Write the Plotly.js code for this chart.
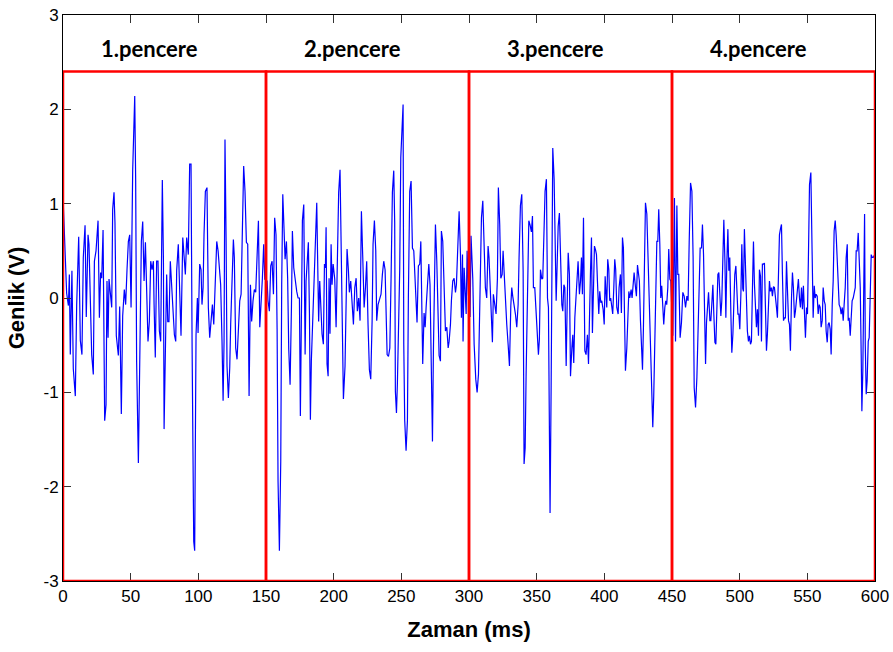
<!DOCTYPE html>
<html>
<head>
<meta charset="utf-8">
<script src="https://cdn.plot.ly/plotly-3.0.1.min.js"></script>
<style>html,body{margin:0;padding:0;background:#fff;}#chart{width:893px;height:652px;}</style>
</head>
<body>
<div id="chart"></div>
<script>
// Window 1 (0-150 ms)
const w1Time = [0,1.2,2,2.7,4,4.7,5.4,6.6,7.6,9.1,10.1,11.6,12.8,14,15,16.3,17.2,18.5,19.2,20.2,21.2,22.4,23.2,24.4,25.9,26.9,27.8,28.6,29.6,30.8,31.8,32.5,33.3,34,35.2,36,36.7,37.7,38.4,39.4,40.9,41.9,43.1,44.1,45.3,46.3,47.3,48.3,49.3,
  50.3,51.5,53,53.7,54.4,55.7,56.4,57.2,57.9,58.9,59.9,60.9,61.8,62.8,63.8,64.8,65.8,66.8,67.3,68.2,69.2,70.2,71.2,72.2,73.4,74.2,74.7,75.6,76.6,77.4,78.3,79.3,80.3,81.3,82.3,83.3,84,85.2,86.2,87.2,88.5,89.5,90.4,91.4,92.6,93.6,94.6,95.4,96.1,96.6,97.3,98.3,99.3,
  99.8,101,102,102.7,103.5,104.2,105.2,106.4,107.4,108.4,109.4,110.4,111.4,112.6,113.6,114.6,115.5,116.5,117.5,118.3,119,119.7,120.5,121.2,122.2,123.2,123.9,124.9,125.9,126.6,127.6,128.6,129.6,130.6,131.6,132.5,133.5,134.5,135.5,136.5,137.5,138.5,139.4,140.4,141.4,142.4,143.4,144.4,145.4,146.4,147.3,148.3,149.1];
const w1Amp = [1.08,0.57,0.14,0.05,-0.08,0.25,-0.6,0.29,-0.75,-1.04,-0.08,0.65,-0.45,-0.6,0.43,0.77,-0.2,0.67,0.57,0.04,-0.6,-0.81,0.39,0.5,0.82,-0.21,0.27,0.21,0.72,-1.3,-1.13,0.18,-0.42,0.2,0.03,-0.1,0.94,1.12,0.8,-0.4,-0.61,-0.09,-1.23,-0.19,0.09,-0.07,0.3,0.6,0.67,
  -0.1,1.36,2.14,1.24,-0.67,-1.75,-1.12,-0.31,0.6,0.81,0.18,0.59,0.11,-0.46,-0.25,0.39,0.3,0.39,-0.07,-0.63,0.39,0.39,-0.35,-0.46,1.25,0.41,-1.39,-0.46,0.25,-0.25,-0.25,0.39,0.11,-0.25,-0.39,-0.46,0.29,0.57,0.1,-0.4,0.64,0.43,0.25,0.64,0.46,1.42,1.42,-0.53,-1.62,-2.58,-2.68,-0.39,0,
  -0.37,0.36,0.3,-0.07,0.11,0.67,1.13,1.17,-0.1,-0.42,-0.21,-0.07,-0.28,0.23,0.6,0.5,0.29,0.14,-0.46,-1.09,-0.46,1.68,0.64,-0.72,-1.06,-0.74,-0.28,0.25,0.62,0.43,-0.53,-0.65,-0.38,-0.03,0.04,0.67,1.4,1.13,0.59,0.57,-1.04,0.14,-0.25,-0.03,0.09,0.06,0.45,0.82,-0.31,-0.07,0.2,0.57,0.2];

// Window 2 (150-300 ms)
const w2Time = [150.8,151.5,152.5,153.5,154.5,155.5,156.4,157.4,158.2,158.9,159.9,160.9,161.6,162.4,163.3,164.1,165.1,166,166.8,167.8,168.8,169.5,170.5,171.5,172.7,173.7,174.7,175.4,176.2,176.9,177.9,178.9,179.6,180.6,181.3,182.1,182.8,183.5,184.5,185.5,186.5,187.5,188.2,188.9,189.7,190.7,191.4,192.4,193.2,193.9,194.4,195.1,195.9,196.6,197.3,198.1,198.8,199.6,
  200.8,201.8,202.8,203.7,204.7,205.5,206.2,207.2,208.4,209.2,209.9,210.9,211.6,212.6,213.6,214.6,215.6,216.6,217.5,218.5,219.5,220.5,221.5,222.5,223.5,224.4,225.4,226.4,227.4,228.4,229.1,230.1,231.1,231.8,232.8,233.8,235,236,237,238,238.7,239.5,240.5,241.5,242.4,243.4,244.4,245.1,245.6,246.4,247.1,247.9,248.8,249.6,
  251.3,251.8,252.5,253.5,254.5,255.2,256.2,257.2,258.2,259.2,259.9,260.9,261.6,262.6,263.6,264.4,265.1,265.8,266.8,267.6,268.3,269.3,270.3,271.2,272,273,273.7,274.5,275.2,276.2,277.2,277.9,278.9,279.6,280.6,281.6,282.6,283.6,284.6,285.3,286.3,287,288,289,290,290.7,291.7,292.7,293.7,294.4,295.2,295.6,296.4,297.1,297.9,298.6,299.6];
const w2Amp = [0.18,-0.03,-0.14,0.34,0.39,0.04,0.85,0.67,-0.33,-1.94,-2.68,-1.73,0.14,1.1,0.74,0.41,0.6,0.21,-0.54,-0.92,-0.1,0.71,0.32,0.18,0.07,0,0,-1.25,-0.28,0.82,0.99,-0.6,0.18,0.43,0.59,-0.17,-1.29,-0.67,-0.21,0.04,0.64,1.01,0.37,-0.25,0.18,-0.17,-0.38,-0.49,0.36,0.32,0.75,-0.7,-0.83,0.21,-0.38,0.57,0.14,0.36,
  0.2,-0.31,0.3,1.12,1.36,0.59,-0.42,-1.07,-0.72,0.07,0.52,0.29,0.06,0.18,-0.07,-0.28,0.11,0.21,-0.14,0,-0.24,0.92,0.43,-0.1,0.11,0.39,-0.28,-0.76,-0.86,-0.25,0.57,0.82,0.5,-0.24,-0.07,-0.03,0.04,0.25,0.39,0.3,-0.07,-0.6,-0.62,-0.53,0.2,1.12,1.35,0.8,-0.99,-1.22,-0.9,-0.42,0.3,1.49,
  2.05,-0.49,-1.3,-1.62,-1.3,0,1.13,1.24,0.53,0.5,0.23,-0.14,-0.26,0.34,0.36,0.6,-0.46,-0.7,-0.16,-0.31,-0.1,0.13,0.36,0.14,-0.77,-1.52,-0.56,0.55,0.78,0.39,-0.07,-0.61,-0.67,0.71,0.6,0.07,-0.35,-0.31,-0.53,-0.46,-0.28,-0.03,0.18,0.21,0.06,0.14,0.59,0.92,0.46,-0.21,0.46,-0.46,0.32,0.02,-0.17,0.5,0.04];

// Window 3 (300-450 ms)
const w3Time = [300.8,301.5,302.8,303.8,305,306,307,308.2,309.2,310.2,311.1,312.1,313.1,314.1,314.8,315.6,316.6,317.3,318,319,320,321,321.7,322.7,323.5,324.5,325.2,325.9,326.9,327.9,328.9,329.9,330.9,331.6,332.3,333.3,334.3,335.3,336.3,337,338,339,340,340.7,341.5,342.2,343.2,344.2,345.2,346.1,346.9,347.6,348.6,349.6,350.6,
  351.3,352,352.8,353.8,354.5,355.3,356.2,357.2,358,358.7,359.2,359.9,360.7,361.4,361.9,362.9,363.6,364.4,365.1,365.9,366.8,367.8,368.6,369.3,370.1,370.8,371.8,372.5,373.3,374.2,375,376,376.7,377.4,378.2,379.2,379.9,380.6,381.6,382.4,383.1,383.8,384.6,385.6,386.5,387.5,388.3,389,389.8,390.5,391.2,392,392.7,393.5,394.2,394.9,395.9,396.6,397.4,398.1,399.1,399.9,400.6,
  401.8,402.5,403.3,404,404.7,405.5,406.2,407,407.7,408.4,409.2,410.2,410.9,411.9,412.6,413.4,414.1,414.9,415.6,416.6,417.3,418.1,418.8,419.8,420.5,421.3,422,422.7,423.7,424.5,425.2,425.9,426.7,427.4,428.2,428.9,429.6,430.4,431.4,432.1,432.8,433.6,434.3,435.1,435.8,436.5,437.3,438,438.8,439.5,440.2,441,441.7,442.4,443.2,443.9,444.7,445.4,446.1,446.9,447.6,448.4,449.1,449.8,450.6];
const w3Amp = [-0.2,0.66,0.2,-0.49,-0.86,-1.0,-0.81,-0.07,0.85,1.03,0.67,0.11,0,0.55,0.43,0.11,-0.24,-0.47,0.04,-0.07,-0.17,0.21,1.17,0.78,0.21,0.25,0.5,0.29,-0.08,-0.28,-0.49,-0.72,-0.08,0.11,0.02,-0.07,-0.17,-0.31,-0.07,0.43,0.98,1.1,0.29,-1.76,-1.59,-0.81,0.3,0.82,0.77,0.7,0.87,0.11,0.11,-0.19,-0.45,
  -0.6,-0.44,0.3,0.2,0.21,0.64,1.13,1.26,0,-0.1,-0.95,-2.28,-0.93,0.44,1.59,1.26,0.45,-0.03,0.34,0.76,0.9,0.41,-0.07,-0.14,0.14,0.11,-0.72,-0.1,0.48,0.25,-0.83,-0.53,-0.39,-0.69,-0.21,0.04,0.2,0.39,0.04,0.18,0.43,0.04,0.85,-0.56,-0.6,-0.39,-0.7,-0.07,0.3,0.64,-0.37,0.11,0.55,0.51,0.46,0.18,-0.17,0.07,-0.05,-0.03,-0.12,-0.28,0.23,
  -0.1,0.41,0.3,-0.03,0,-0.1,-0.17,0.11,0.41,0.3,-0.1,-0.17,0.11,0.25,-0.16,0.64,0.53,-0.17,-0.77,-0.53,-0.1,0.07,0,0.09,0,0.21,0.27,0.16,0.02,0.35,0.23,0.18,-0.24,-0.6,-0.76,-0.31,0.53,1.01,0.89,0.53,0.13,-0.24,-0.81,-1.02,-1.37,-1.04,-0.31,0.2,0.6,0.6,0.94,0.57,0,0.13,-0.07,-0.28,-0.1,-0.03,-0.07,0.11,0.52,0.2,0.18,-0.1,-0.4];

// Window 4 (450-600 ms)
const w4Time = [451.8,452.6,453.6,454.3,455,456,457,458,459,460,461,461.9,462.7,463.7,464.7,465.6,466.4,467.4,468.4,469.1,469.8,470.8,471.8,472.5,473.3,474,474.8,475.5,476.2,477,478,478.7,479.4,480.2,480.9,481.7,482.4,483.1,483.9,484.6,485.4,486.1,486.8,487.6,488.3,489.1,489.8,490.5,491.3,492,492.7,493.5,494.2,495,495.7,496.4,497.2,497.9,498.7,499.4,500.1,500.9,501.6,
  502.3,502.8,503.5,504.3,505,505.7,506.5,507.2,508,508.7,509.4,510.2,510.9,511.7,512.4,513.1,513.9,514.6,515.4,516.1,516.8,517.6,518.3,519,519.8,520.5,521.3,522,522.7,523.5,524.2,525,525.7,526.4,527.2,527.9,528.7,529.4,530.1,530.9,531.6,532.4,533.1,533.8,534.6,535.3,536.1,536.8,537.5,538.3,539,539.7,540.5,541.2,542,542.7,543.4,544.2,544.9,545.7,546.4,547.1,547.9,548.6,549.4,550.1,550.8,551.6,
  552.6,553.6,554.3,555.1,555.8,556.5,557.3,558,558.8,559.5,560.2,561,561.7,562.5,563.2,563.9,564.7,565.4,566.1,566.9,567.6,568.4,569.1,569.8,570.6,571.3,572.1,572.8,573.5,574.3,575,575.8,576.5,577.2,578,578.7,579.5,580.2,580.9,581.7,582.4,583.1,583.9,584.6,585.4,586.1,586.8,587.6,588.3,589.1,589.8,590.3,591,591.5,592.3,592.8,593.5,594.2,595,595.7,596.5,597.2,598,598.7,599.4,600];
const w4Amp = [1.06,-0.46,0.98,0.25,0.25,-0.42,-0.26,0.06,0.02,-0.1,0.02,-0.03,0.59,1.22,1.13,0.43,-0.95,-1.16,-0.84,-0.37,0.07,0.53,0.53,0.78,0.46,-0.24,-0.7,-0.26,-0.08,0.06,-0.24,-0.24,-0.07,0.14,-0.17,-0.47,-0.49,-0.12,0.25,0.27,0.04,-0.19,-0.03,0.36,0.83,0.39,-0.21,0.37,0.73,0.29,0.43,-0.17,-0.58,-0.38,-0.03,0.25,0.34,0.11,-0.17,-0.17,-0.33,0.04,0.57,
  0.1,0.07,0.73,0.36,-0.14,-0.35,-0.46,-0.4,-0.49,-0.46,0.07,0.6,0.15,-0.1,-0.31,-0.12,-0.4,0.3,0.23,-0.46,0.36,0.36,0.37,-0.07,-0.56,-0.38,-0.03,0.18,0.07,0.11,0.02,0.12,0.11,-0.03,-0.1,-0.21,0.25,0.67,0.73,0.78,0.25,-0.24,-0.21,-0.21,0.39,0.07,-0.24,-0.28,-0.56,0,0.27,0.11,-0.21,-0.14,-0.01,0.11,0.2,0,-0.1,0.11,-0.12,0.13,-0.24,-0.42,-0.1,-0.17,0.43,1.2,
  1.33,0.6,-0.21,0.13,0,0.04,0.02,-0.17,-0.07,-0.1,-0.31,-0.24,0.11,-0.03,-0.07,-0.35,-0.47,-0.28,-0.26,-0.33,-0.6,-0.07,0.18,0.71,0.82,0.67,0.41,0.11,-0.07,-0.1,-0.17,-0.1,-0.24,-0.07,0.11,0.43,0.57,-0.24,-0.21,-0.4,-0.1,-0.03,0,0.07,0.11,0.5,0.5,0.69,0.39,0.11,-0.6,-1.2,-0.77,0.3,0.89,-0.49,-1.02,-0.88,-0.46,-0.42,0.18,0.46,0.43,0.43,0.45,0.45];

const windowStart = [0, 150, 300, 450];
const windowEnd = [150, 300, 450, 600];
const windowTop = 2.4;
const windowLabels = ['1.pencere', '2.pencere', '3.pencere', '4.pencere'];
const xTicks = [0,50,100,150,200,250,300,350,400,450,500,550,600];
const yTicks = [-3,-2,-1,0,1,2,3];

const time = [].concat(w1Time, w2Time, w3Time, w4Time);
const amp = [].concat(w1Amp, w2Amp, w3Amp, w4Amp);

const trace = {
  x: time, y: amp, type: 'scatter', mode: 'lines',
  line: {color: '#0000FF', width: 1.2}, hoverinfo: 'skip'
};

const shapes = windowStart.map((s, i) => ({
  type: 'rect', xref: 'x', yref: 'y', x0: s, x1: windowEnd[i], y0: -3, y1: windowTop,
  line: {color: '#FF0000', width: 2.5}, fillcolor: 'rgba(0,0,0,0)', layer: 'above'
}));

const annotations = windowStart.map((s, i) => ({
  xref: 'x', yref: 'y', x: s + 64, y: 2.64, xanchor: 'center', yanchor: 'middle',
  text: '<b>' + windowLabels[i] + '</b>', showarrow: false,
  font: {family: 'Lato, "Open Sans", sans-serif', size: 22, color: '#000'}
}));

const axisCommon = {
  showgrid: false, zeroline: false, showline: true, linecolor: '#000', linewidth: 1,
  mirror: 'ticks', ticks: 'inside', ticklen: 8, tickcolor: '#333', tickwidth: 1,
  tickfont: {family: '"Liberation Sans", Arial, sans-serif', size: 17, color: '#000'}
};

const layout = {
  width: 893, height: 652,
  margin: {l: 63, r: 18, t: 15, b: 71},
  paper_bgcolor: '#fff', plot_bgcolor: '#fff',
  showlegend: false,
  xaxis: Object.assign({}, axisCommon, {
    range: [0, 600], tickmode: 'array', tickvals: xTicks, ticktext: xTicks.map(String),
    title: {text: '<b>Zaman (ms)</b>', font: {family: '"Liberation Sans", Arial, sans-serif', size: 22, color: '#000'}, standoff: 16}
  }),
  yaxis: Object.assign({}, axisCommon, {
    range: [-3, 3], tickmode: 'array', tickvals: yTicks, ticktext: yTicks.map(String),
    title: {text: '<b>Genlik (V)</b>', font: {family: '"Liberation Sans", Arial, sans-serif', size: 22, color: '#000'}, standoff: 12}
  }),
  shapes: shapes,
  annotations: annotations
};

Plotly.newPlot('chart', [trace], layout, {displayModeBar: false, staticPlot: true});
</script>
</body>
</html>
